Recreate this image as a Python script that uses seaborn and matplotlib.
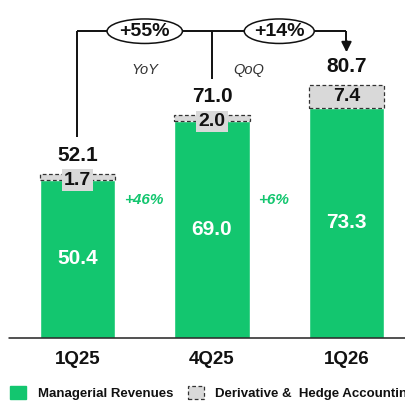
import matplotlib
matplotlib.use("Agg")
import matplotlib.pyplot as plt
from matplotlib.patches import Ellipse, Patch
import seaborn as sns
import pandas as pd

# Quarterly revenues (R$ bn)
quarters = ["1Q25", "4Q25", "1Q26"]
managerial = [50.4, 69.0, 73.3]
hedge = [1.7, 2.0, 7.4]
totals = [52.1, 71.0, 80.7]
yoy_label = "+55%"
qoq_label = "+14%"
managerial_growth = ["+46%", "+6%"]

GREEN = "#13C66F"
GRAY = "#D9D9D9"
DARK = "#111111"

sns.set_style("white")
plt.rcParams["font.family"] = ["Liberation Sans", "DejaVu Sans"]

fig = plt.figure(figsize=(4.05, 4.01), dpi=100)
ax = fig.add_axes([0, 0, 1, 1])

df = pd.DataFrame({"quarter": quarters, "managerial": managerial})
sns.barplot(data=df, x="quarter", y="managerial", color=GREEN, saturation=1,
            width=0.558, ax=ax, zorder=2)

xs = list(range(len(quarters)))
ax.bar(xs, hedge, bottom=managerial, width=0.558, color=GRAY,
       edgecolor="#333333", linewidth=0.9, linestyle=(0, (3, 2)), zorder=2)

ax.set_xlim(-0.576, 2.435)
ax.set_ylim(-20.06, 107.64)
ax.axis("off")

# baseline
ax.plot([-0.509, 2.5], [0, 0], color="#222222", lw=1.1, zorder=3, clip_on=False)

for i, q in enumerate(quarters):
    ax.text(i, -7.0, q, ha="center", va="center", fontsize=13.5,
            fontweight="bold", color=DARK)
    # managerial value inside the green bar
    ax.text(i, managerial[i] / 2, f"{managerial[i]:.1f}", ha="center",
            va="center", fontsize=15, fontweight="bold", color="white", zorder=4)
    # hedge value on the grey segment
    ax.text(i, managerial[i] + hedge[i] / 2 - (1.0 if hedge[i] < 3 else 0),
            f"{hedge[i]:.1f}", ha="center", va="center", fontsize=14,
            fontweight="bold", color=DARK, zorder=5,
            bbox=dict(boxstyle="square,pad=0.12", fc=GRAY, ec="none")
            if hedge[i] < 3 else None)
    # total above the bar
    ax.text(i, totals[i] + 5.9, f"{totals[i]:.1f}", ha="center", va="center",
            fontsize=15, fontweight="bold", color=DARK)

# growth of managerial revenues between bars
for i, g in enumerate(managerial_growth):
    ax.text(i + 0.49 - 0.03 * i, 44, g, ha="center", va="center", fontsize=11,
            fontweight="bold", style="italic", color=GREEN)

# bracket with YoY / QoQ growth
top = 97.7
ew, eh = 0.56, 7.8
lk = dict(color=DARK, lw=1.4, zorder=3, solid_capstyle="butt")
ax.plot([0, 0], [totals[0] + 11.9, top], **lk)
ax.plot([0, 0.5 - ew / 2], [top, top], **lk)
ax.plot([0.5 + ew / 2, 1.5 - 0.52 / 2], [top, top], **lk)
ax.plot([1, 1], [top, totals[1] + 11.5], **lk)
ax.plot([1.5 + 0.52 / 2, 2], [top, top], **lk)
ax.plot([2, 2], [top, totals[2] + 13.5], **lk)
ax.annotate("", xy=(2, totals[2] + 10.3), xytext=(2, totals[2] + 14),
            arrowprops=dict(arrowstyle="-|>,head_length=0.6,head_width=0.3",
                            color=DARK, lw=1.4, shrinkA=0, shrinkB=0))
ax.add_patch(Ellipse((0.5, top), ew, eh, fc="white", ec=DARK, lw=1.1, zorder=4))
ax.add_patch(Ellipse((1.5, top), 0.52, eh, fc="white", ec=DARK, lw=1.1, zorder=4))
ax.text(0.5, top, yoy_label, ha="center", va="center", fontsize=14,
        fontweight="bold", color=DARK, zorder=5)
ax.text(1.5, top, qoq_label, ha="center", va="center", fontsize=14,
        fontweight="bold", color=DARK, zorder=5)
ax.text(0.5, 85.4, "YoY", ha="center", va="center", fontsize=10.5,
        style="italic", color="#333333")
ax.text(1.27, 85.4, "QoQ", ha="center", va="center", fontsize=10.5,
        style="italic", color="#333333")

handles = [
    Patch(facecolor=GREEN, edgecolor=GREEN, label="Managerial Revenues"),
    Patch(facecolor=GRAY, edgecolor="#333333", linestyle=(0, (3, 2)),
          linewidth=0.9, label="Derivative &  Hedge Accounting"),
]
leg = fig.legend(handles=handles, loc="center left", bbox_to_anchor=(0.025, 0.02),
                 ncol=2, frameon=False, fontsize=9.5, handlelength=1.2,
                 handleheight=1.2, handletextpad=0.9, columnspacing=1.1,
                 borderaxespad=0, borderpad=0)
for t in leg.get_texts():
    t.set_fontweight("bold")
    t.set_color(DARK)

fig.savefig("out.png", dpi=100)
